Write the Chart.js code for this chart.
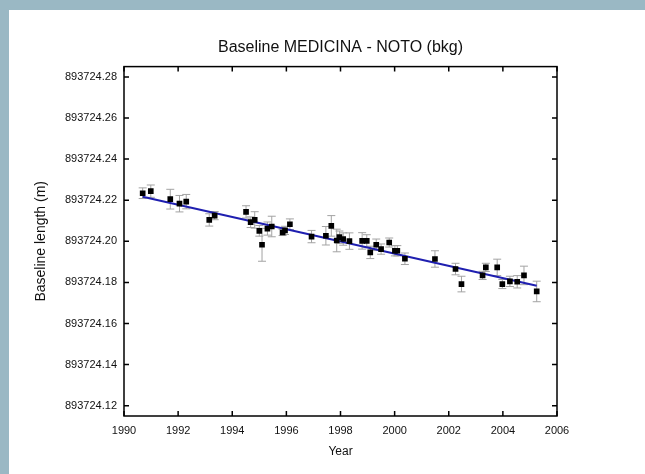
<!DOCTYPE html>
<html>
<head>
<meta charset="utf-8">
<script src="https://cdn.jsdelivr.net/npm/chart.js@4/dist/chart.umd.min.js"></script>
<style>
  html, body { margin: 0; padding: 0; background: #9ab8c4; }
  #frame { position: absolute; left: 9px; top: 10px; width: 636px; height: 464px; background: #ffffff; }
  canvas { display: block; }
</style>
</head>
<body>
<div id="frame"><canvas id="chart" width="636" height="464"></canvas></div>
<script>
// Observation epochs (decimal year)
const years = [
  1990.69, 1990.99, 1991.71, 1992.05, 1992.30, 1993.15, 1993.35, 1994.51, 1994.68, 1994.83,
  1995.00, 1995.10, 1995.30, 1995.46, 1995.86, 1995.95, 1996.13, 1996.93, 1997.46, 1997.66,
  1997.86, 1997.96, 1998.10, 1998.33, 1998.80, 1998.97, 1999.10, 1999.32, 1999.50, 1999.80,
  2000.01, 2000.10, 2000.38, 2001.49, 2002.25, 2002.47, 2003.25, 2003.37, 2003.79, 2003.98,
  2004.26, 2004.53, 2004.78, 2005.25
]

// Baseline length (m)
const lengths = [
  893724.2234, 893724.2244, 893724.2205, 893724.2183, 893724.2193, 893724.2104, 893724.2125, 893724.2143, 893724.2093, 893724.2104,
  893724.2051, 893724.1983, 893724.2062, 893724.2072, 893724.2043, 893724.2053, 893724.2083, 893724.2023, 893724.2027, 893724.2075,
  893724.2004, 893724.2020, 893724.2011, 893724.2001, 893724.2002, 893724.2002, 893724.1946, 893724.1983, 893724.1962, 893724.1994,
  893724.1954, 893724.1954, 893724.1915, 893724.1914, 893724.1865, 893724.1792, 893724.1834, 893724.1873, 893724.1873, 893724.1792,
  893724.1805, 893724.1803, 893724.1834, 893724.1756
]

// 1-sigma errors (m)
const errors = [
  0.0026, 0.0030, 0.0048, 0.0040, 0.0035, 0.0030, 0.0020, 0.0030, 0.0026, 0.0040,
  0.0026, 0.0080, 0.0032, 0.0050, 0.0015, 0.0020, 0.0026, 0.0030, 0.0045, 0.0050,
  0.0055, 0.0030, 0.0030, 0.0040, 0.0040, 0.0030, 0.0030, 0.0028, 0.0025, 0.0022,
  0.0025, 0.0025, 0.0028, 0.0040, 0.0028, 0.0038, 0.0020, 0.0020, 0.0040, 0.0022,
  0.0025, 0.0030, 0.0045, 0.0050
]

// Linear fit endpoints
const fitYears = [1990.69, 2005.25]
const fitLengths = [893724.2217, 893724.1784]

// Axis ticks
const xTicks = [1990, 1992, 1994, 1996, 1998, 2000, 2002, 2004, 2006]
const yTicks = [893724.12, 893724.14, 893724.16, 893724.18, 893724.20, 893724.22, 893724.24, 893724.26, 893724.28]

Chart.defaults.font.family = "'Liberation Sans', Arial, sans-serif"
Chart.defaults.color = '#111111'

// Grey error bars with caps, drawn under the markers
const errorBars = {
  id: 'errorBars',
  beforeDatasetsDraw(chart) {
    const { ctx, scales: { x, y } } = chart
    ctx.save()
    ctx.strokeStyle = '#a3a3a3'
    ctx.lineWidth = 1
    years.forEach((yr, i) => {
      const px = x.getPixelForValue(yr)
      const top = y.getPixelForValue(lengths[i] + errors[i])
      const bot = y.getPixelForValue(lengths[i] - errors[i])
      ctx.beginPath()
      ctx.moveTo(px, top); ctx.lineTo(px, bot)
      ctx.moveTo(px - 4, top); ctx.lineTo(px + 4, top)
      ctx.moveTo(px - 4, bot); ctx.lineTo(px + 4, bot)
      ctx.stroke()
    })
    ctx.restore()
  }
}

// Closed frame with inward tick marks on all four sides
const frameTicks = {
  id: 'frameTicks',
  afterDraw(chart) {
    const { ctx, chartArea: a, scales: { x, y } } = chart
    const len = 5
    ctx.save()
    ctx.strokeStyle = '#000000'
    ctx.lineWidth = 1.5
    ctx.strokeRect(a.left, a.top, a.right - a.left, a.bottom - a.top)
    ctx.beginPath()
    xTicks.forEach(v => {
      const px = x.getPixelForValue(v)
      ctx.moveTo(px, a.bottom); ctx.lineTo(px, a.bottom - len)
      ctx.moveTo(px, a.top); ctx.lineTo(px, a.top + len)
    })
    yTicks.forEach(v => {
      const py = y.getPixelForValue(v)
      ctx.moveTo(a.left, py); ctx.lineTo(a.left + len, py)
      ctx.moveTo(a.right, py); ctx.lineTo(a.right - len, py)
    })
    ctx.stroke()
    ctx.restore()
  }
}

new Chart(document.getElementById('chart'), {
  type: 'scatter',
  data: {
    datasets: [
      {
        label: 'Baseline',
        data: years.map((yr, i) => ({ x: yr, y: lengths[i] })),
        pointStyle: 'rect',
        pointRadius: 4,
        pointBorderWidth: 0,
        backgroundColor: '#000000',
        borderColor: '#000000',
        order: 0
      },
      {
        type: 'line',
        label: 'Fit',
        data: fitYears.map((yr, i) => ({ x: yr, y: fitLengths[i] })),
        borderColor: '#1f1fb0',
        borderWidth: 2,
        pointRadius: 0,
        fill: false,
        order: 1
      }
    ]
  },
  options: {
    responsive: false,
    animation: false,
    layout: { padding: { left: 0, right: 88, top: 0, bottom: 0 } },
    plugins: {
      legend: { display: false },
      tooltip: { enabled: false },
      title: {
        display: true,
        text: 'Baseline MEDICINA - NOTO (bkg)',
        fullSize: false,
        color: '#111111',
        font: { size: 16, weight: 'normal' },
        padding: { top: 28.4, bottom: 9 }
      }
    },
    scales: {
      x: {
        type: 'linear',
        position: 'bottom',
        min: 1990,
        max: 2006,
        afterBuildTicks: s => { s.ticks = xTicks.map(v => ({ value: v })) },
        afterFit: s => { s.height = 58 },
        grid: { display: false, drawTicks: false },
        border: { display: false },
        ticks: {
          font: { size: 11 },
          padding: 8,
          maxRotation: 0,
          autoSkip: false,
          callback: v => String(v)
        },
        title: {
          display: true,
          text: 'Year',
          font: { size: 12 },
          padding: { top: 0, bottom: 14.8 }
        }
      },
      y: {
        type: 'linear',
        position: 'left',
        min: 893724.115,
        max: 893724.285,
        afterBuildTicks: s => { s.ticks = yTicks.map(v => ({ value: v })) },
        afterFit: s => { s.width = 115 },
        grid: { display: false, drawTicks: false },
        border: { display: false },
        ticks: {
          font: { size: 11 },
          padding: 7,
          autoSkip: false,
          callback: v => v.toFixed(2)
        },
        title: {
          display: true,
          text: 'Baseline length (m)',
          font: { size: 14 },
          padding: { top: 23.6, bottom: 0 }
        }
      }
    }
  },
  plugins: [errorBars, frameTicks]
})
</script>
</body>
</html>
